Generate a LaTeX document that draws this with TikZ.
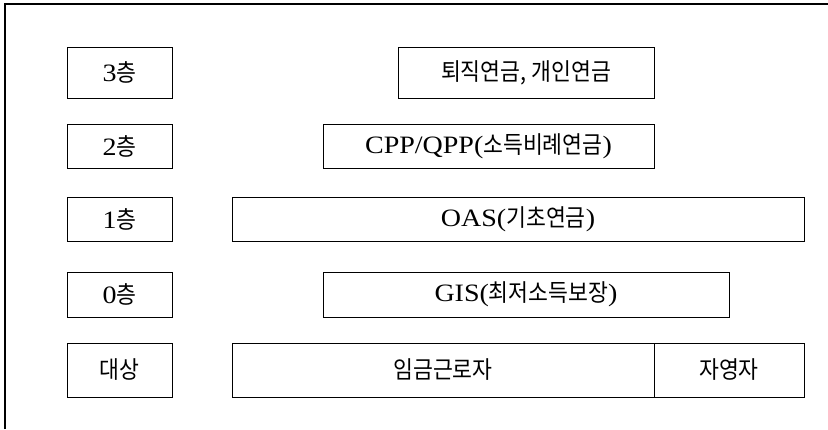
\documentclass[tikz,border=0pt]{standalone}
\usepackage{fontspec}
\setmainfont{Liberation Serif}[FakeStretch=1.12]
\newfontfamily\krfont{Noto Sans CJK KR}[FakeStretch=0.9]
\newcommand{\hg}[1]{{\krfont\fontsize{24}{28}\selectfont #1}}
\begin{document}
\begin{tikzpicture}[x=1pt,y=-1pt,
  box/.style={draw=black, line width=0.9pt, inner sep=0pt, anchor=center,
    font=\fontsize{25}{29}\selectfont},
  frameline/.style={draw=black, line width=1.2pt}]
\useasboundingbox (0,0) rectangle (828,429);
% outer frame (top and left edges visible)
\coordinate (fbl) at (5,429);
\coordinate (ftl) at (5,4);
\coordinate (ftr) at (828,4);
\draw[frameline] (fbl) -- (ftl) -- (ftr);
% layer labels
\node[box, minimum width=105pt, minimum height=51pt] (l3) at (119.5,72.5) {3\hg{층}};
\node[box, minimum width=105pt, minimum height=44pt] (l2) at (119.5,146.5) {2\hg{층}};
\node[box, minimum width=105pt, minimum height=44pt] (l1) at (119.5,219) {1\hg{층}};
\node[box, minimum width=105pt, minimum height=45pt] (l0) at (119.5,294.5) {0\hg{층}};
\node[box, minimum width=105pt, minimum height=54pt] (tg) at (119.5,370) {\hg{대상}};
% programmes
\node[box, minimum width=256pt, minimum height=51pt] (p3) at (526,72.5) {\hg{퇴직연금, 개인연금}};
\node[box, minimum width=331pt, minimum height=44pt] (p2) at (488.5,146.5) {CPP/QPP(\hg{소득비례연금})};
\node[box, minimum width=572pt, minimum height=44pt] (p1) at (518,219) {OAS(\hg{기초연금})};
\node[box, minimum width=406pt, minimum height=45pt] (p0) at (526,294.5) {GIS(\hg{최저소득보장})};
\node[box, minimum width=422pt, minimum height=54pt] (wk) at (443,370) {\hg{임금근로자}};
\node[box, minimum width=150pt, minimum height=54pt] (se) at (729,370) {\hg{자영자}};
\end{tikzpicture}
\end{document}
